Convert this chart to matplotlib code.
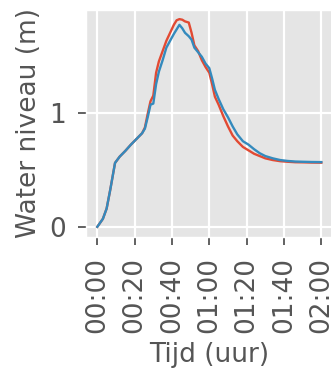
import matplotlib
matplotlib.use("Agg")
import matplotlib.pyplot as plt
from matplotlib.ticker import FixedLocator

plt.style.use("ggplot")

time_min = [0, 3, 5, 7, 9.5, 12, 15, 18, 21, 24, 25.5, 27, 28.5, 30, 31.5, 33, 35, 37, 39, 41,
            42.5, 44, 45.5, 47, 49, 50.5, 52, 54, 56, 58, 60, 61.5, 63, 65, 67.5, 70, 72.5, 75,
            78, 81, 84, 87, 90, 94, 98, 102, 106, 110, 115, 120]

level_red = [0.0, 0.07, 0.16, 0.33, 0.56, 0.615, 0.665, 0.72, 0.77, 0.82, 0.87, 0.99, 1.10, 1.15,
             1.35, 1.45, 1.54, 1.63, 1.70, 1.77, 1.81, 1.82, 1.815, 1.80, 1.79, 1.70, 1.59, 1.54,
             1.46, 1.40, 1.35, 1.25, 1.14, 1.07, 0.97, 0.88, 0.80, 0.75, 0.70, 0.67, 0.64, 0.62,
             0.60, 0.585, 0.575, 0.57, 0.566, 0.565, 0.563, 0.562]

level_blue = [0.0, 0.07, 0.16, 0.33, 0.56, 0.615, 0.665, 0.72, 0.77, 0.82, 0.86, 0.96, 1.07, 1.08,
              1.25, 1.36, 1.46, 1.57, 1.63, 1.69, 1.73, 1.77, 1.74, 1.70, 1.67, 1.64, 1.57, 1.53,
              1.49, 1.43, 1.39, 1.30, 1.20, 1.12, 1.03, 0.96, 0.88, 0.81, 0.75, 0.72, 0.68, 0.645,
              0.62, 0.60, 0.585, 0.577, 0.572, 0.57, 0.568, 0.567]

xticks = [0, 20, 40, 60, 80, 100, 120]
xtick_labels = ["00:00", "00:20", "00:40", "01:00", "01:20", "01:40", "02:00"]
yticks = [0, 1]

W, H = 331, 369
fig = plt.figure(figsize=(W / 100, H / 100), dpi=100)
ax = fig.add_axes([86.1 / W, (H - 236.5) / H, 246.4 / W, 226.5 / H])

ax.plot(time_min, level_red, color="#E24A33", lw=1.7)
ax.plot(time_min, level_blue, color="#348ABD", lw=1.7)

ax.set_xlim(-6, 126)
ax.set_ylim(-0.085, 1.90)
ax.xaxis.set_major_locator(FixedLocator(xticks))
ax.set_xticklabels(xtick_labels, rotation=90)
ax.set_yticks(yticks)
ax.tick_params(labelsize=19, colors="#555555", length=6, width=1.3, pad=8.5)
ax.grid(True, color="white", lw=1.6)
ax.set_xlabel("Tijd (uur)", fontsize=19, color="#555555", labelpad=7)
ax.set_ylabel("Water niveau (m)", fontsize=19, color="#555555", labelpad=5)

fig.savefig("out.png", dpi=100)
